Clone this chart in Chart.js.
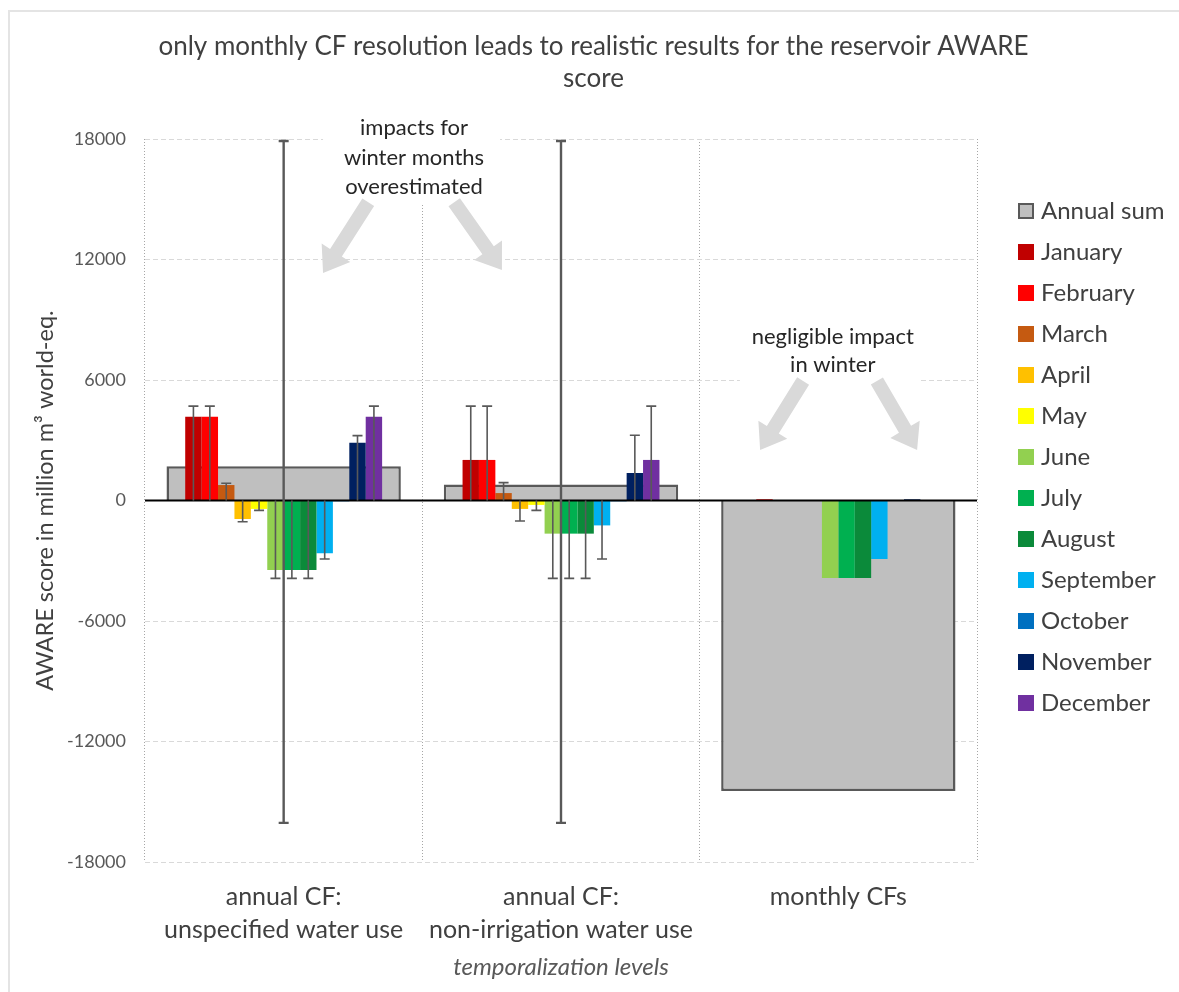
<!DOCTYPE html>
<html>
<head>
<meta charset="utf-8">
<script src="https://cdn.jsdelivr.net/npm/chart.js@4.4.1/dist/chart.umd.min.js"></script>
<style>
html,body{margin:0;padding:0;background:#fff;}
#wrap{position:relative;width:1179px;height:992px;overflow:hidden;}
#frame{position:absolute;left:8px;top:10px;width:1179px;height:992px;border-left:2px solid #e4e4e4;border-top:2px solid #e4e4e4;}
#c{position:absolute;left:0;top:0;}
</style>
</head>
<body>
<div id="wrap"><div id="frame"></div><canvas id="c" width="1179" height="992"></canvas></div>
<script>
// ---- data ----
const categories = [['annual CF:', 'unspecified water use'], ['annual CF:', 'non-irrigation water use'], 'monthly CFs'];
const months = ['January','February','March','April','May','June','July','August','September','October','November','December'];
const monthColors = ['#C00000','#FF0000','#C55A11','#FFC000','#FFFF00','#92D050','#00B050','#0B8A3A','#00B0F0','#0070C0','#002060','#7030A0'];
const annualSum = [1700, 800, -14470];
const annualErrHigh = [17900, 17900, null];
const annualErrLow = [-16050, -16050, null];
const unspecified = [4170, 4170, 770, -920, -420, -3460, -3460, -3460, -2630, -40, 2880, 4170];
const unspecifiedErr = [4700, 4700, 860, -1060, -490, -3880, -3880, -3880, -2910, null, 3230, 4700];
const nonIrrigation = [2020, 2020, 370, -420, -220, -1650, -1650, -1650, -1240, -40, 1370, 2020];
const nonIrrigationErr = [4700, 4700, 890, -1020, -490, -3880, -3880, -3880, -2910, null, 3250, 4700];
const monthlyCF = [0, 60, 0, 0, 0, -3860, -3860, -3860, -2910, 0, 60, 0];
const yMin = -18000, yMax = 18000, yStep = 6000;

const FONT = 'Lato, "Open Sans", sans-serif';
const TEXT = '#404040';

const annualDataset = {
  label: 'Annual sum', data: annualSum, errLow: annualErrLow, errHigh: annualErrHigh,
  backgroundColor: '#BFBFBF', borderColor: '#595959', borderWidth: 2.5,
  grouped: false, categoryPercentage: 1, barPercentage: 0.845, order: 1
};
const monthDatasets = months.map((m, k) => ({
  label: m, data: [unspecified[k], nonIrrigation[k], monthlyCF[k]],
  errEnds: [unspecifiedErr[k], nonIrrigationErr[k], null],
  backgroundColor: monthColors[k], borderWidth: 0,
  categoryPercentage: 0.71, barPercentage: 1, order: 0
}));

const notes = [
  { x: 0.47, y: 18550, gap: 29.5, lines: ['impacts for', 'winter months', 'overestimated'],
    box: [0.142, 0.78, 19500, 14720],
    arrows: [[0.305, 14850, 0.142, 11330], [0.615, 14850, 0.787, 11480]] },
  { x: 1.98, y: 8140, gap: 28, lines: ['negligible impact', 'in winter'],
    box: [1.645, 2.294, 9000, 5650],
    arrows: [[1.873, 5950, 1.718, 2510], [2.139, 5950, 2.284, 2510]] }
];

function drawArrow(ctx, x1, y1, x2, y2) {
  const dx = x2 - x1, dy = y2 - y1, L = Math.hypot(dx, dy);
  const ux = dx / L, uy = dy / L, px = -uy, py = ux;
  const sw = 7, hw = 17, hl = 24;
  const bx = x2 - ux * hl, by = y2 - uy * hl;
  ctx.beginPath();
  ctx.moveTo(x1 + px * sw, y1 + py * sw);
  ctx.lineTo(bx + px * sw, by + py * sw);
  ctx.lineTo(bx + px * hw, by + py * hw);
  ctx.lineTo(x2, y2);
  ctx.lineTo(bx - px * hw, by - py * hw);
  ctx.lineTo(bx - px * sw, by - py * sw);
  ctx.lineTo(x1 - px * sw, y1 - py * sw);
  ctx.closePath();
  ctx.fill();
}

const extras = {
  id: 'extras',
  beforeDatasetsDraw(chart) {
    const ctx = chart.ctx, xs = chart.scales.x, ys = chart.scales.y;
    ctx.save();
    notes.forEach(n => {
      const bx0 = xs.getPixelForValue(n.box[0]), bx1 = xs.getPixelForValue(n.box[1]);
      const by0 = ys.getPixelForValue(n.box[2]), by1 = ys.getPixelForValue(n.box[3]);
      ctx.fillStyle = '#FFFFFF';
      ctx.fillRect(bx0, by0, bx1 - bx0, by1 - by0);
      ctx.fillStyle = '#D9D9D9';
      n.arrows.forEach(a => drawArrow(ctx, xs.getPixelForValue(a[0]), ys.getPixelForValue(a[1]), xs.getPixelForValue(a[2]), ys.getPixelForValue(a[3])));
      ctx.fillStyle = '#262626';
      ctx.font = '22px ' + FONT;
      ctx.textAlign = 'center';
      ctx.textBaseline = 'middle';
      const cx = xs.getPixelForValue(n.x), cy = ys.getPixelForValue(n.y);
      n.lines.forEach((t, i) => ctx.fillText(t, cx, cy + i * n.gap));
    });
    ctx.restore();
  },
  afterDatasetsDraw(chart) {
    const ctx = chart.ctx, ys = chart.scales.y, a = chart.chartArea;
    ctx.save();
    const y0 = ys.getPixelForValue(0);
    ctx.strokeStyle = '#000000'; ctx.lineWidth = 2;
    ctx.beginPath(); ctx.moveTo(a.left, y0); ctx.lineTo(a.right, y0); ctx.stroke();
    ctx.strokeStyle = '#595959';
    const cap = 5;
    chart.data.datasets.forEach((ds, di) => {
      const meta = chart.getDatasetMeta(di);
      meta.data.forEach((bar, i) => {
        const x = bar.x;
        if (ds.errEnds && ds.errEnds[i] != null) {
          const ye = ys.getPixelForValue(ds.errEnds[i]);
          ctx.lineWidth = 1.6;
          ctx.beginPath(); ctx.moveTo(x, y0); ctx.lineTo(x, ye);
          ctx.moveTo(x - cap, ye); ctx.lineTo(x + cap, ye); ctx.stroke();
        }
        if (ds.errHigh && ds.errHigh[i] != null) {
          const yh = ys.getPixelForValue(ds.errHigh[i]), yl = ys.getPixelForValue(ds.errLow[i]);
          ctx.lineWidth = 2.4;
          ctx.beginPath(); ctx.moveTo(x, yh); ctx.lineTo(x, yl);
          ctx.moveTo(x - cap, yh); ctx.lineTo(x + cap, yh);
          ctx.moveTo(x - cap, yl); ctx.lineTo(x + cap, yl); ctx.stroke();
        }
      });
    });
    ctx.restore();
  },
  afterDraw(chart) {
    const ctx = chart.ctx;
    ctx.save();
    ctx.font = '24px ' + FONT;
    ctx.textBaseline = 'middle';
    ctx.textAlign = 'left';
    chart.data.datasets.forEach((ds, i) => {
      const yc = 211 + i * 41;
      ctx.fillStyle = ds.backgroundColor;
      ctx.fillRect(1018, yc - 8, 16, 16);
      if (ds.borderWidth) {
        ctx.strokeStyle = ds.borderColor; ctx.lineWidth = 2;
        ctx.strokeRect(1019, yc - 7, 14, 14);
      }
      ctx.fillStyle = TEXT;
      ctx.fillText(ds.label, 1041, yc);
    });
    ctx.restore();
  }
};

new Chart(document.getElementById('c'), {
  type: 'bar',
  data: { labels: categories, datasets: [annualDataset, ...monthDatasets] },
  plugins: [extras],
  options: {
    responsive: false, animation: false,
    layout: { padding: { left: 8, right: 0, top: 0, bottom: 0 } },
    plugins: {
      legend: { display: false },
      tooltip: { enabled: false },
      title: {
        display: true,
        text: ['only monthly CF resolution leads to realistic results for the reservoir AWARE', 'score'],
        color: TEXT, font: { family: FONT, size: 26, weight: 'normal', lineHeight: 1.2 },
        padding: { top: 31.4, bottom: 45.2 }
      }
    },
    scales: {
      x: {
        type: 'category', position: 'bottom', offset: true,
        grid: { display: true, offset: true, drawTicks: false, color: '#A6A6A6', lineWidth: 1 },
        border: { display: false, dash: [1, 2] },
        ticks: { color: TEXT, font: { family: FONT, size: 25, lineHeight: 1.32 }, padding: 18.5, maxRotation: 0, autoSkip: false },
        title: { display: true, text: 'temporalization levels', color: '#595959', font: { family: FONT, size: 24, style: 'italic', lineHeight: 1.2 }, padding: { top: 0, bottom: 10.6 } },
        afterFit: s => { s.height = 130; }
      },
      y: {
        type: 'linear', position: 'left', min: yMin, max: yMax,
        ticks: { stepSize: yStep, color: '#595959', font: { family: FONT, size: 18 }, padding: 19, callback: v => String(v) },
        grid: { color: '#D9D9D9', lineWidth: 1, drawTicks: false },
        border: { display: false, dash: [5, 3] },
        title: { display: true, text: 'AWARE score in million m³ world-eq.', color: TEXT, font: { family: FONT, size: 23.5, lineHeight: 1.2 }, padding: { top: 22.9, bottom: 0 } },
        afterFit: s => { s.width = 137; }
      },
      yR: {
        type: 'linear', position: 'right', display: true,
        ticks: { display: false }, grid: { display: false }, border: { display: false },
        afterFit: s => { s.width = 202; }
      }
    }
  }
});
</script>
</body>
</html>
